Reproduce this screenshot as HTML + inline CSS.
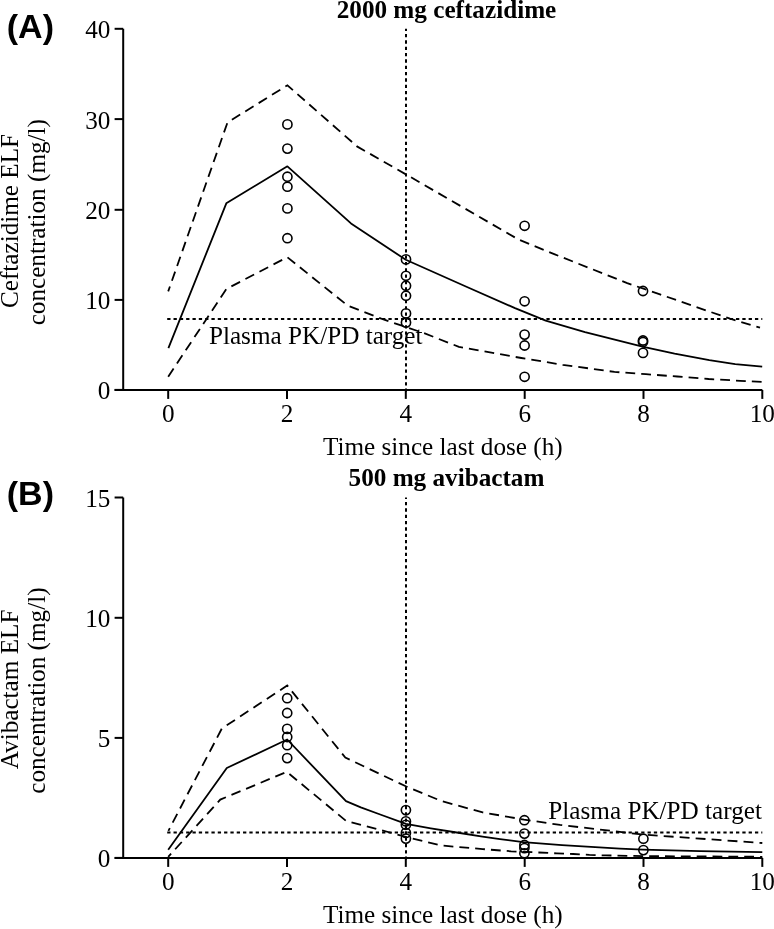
<!DOCTYPE html>
<html><head><meta charset="utf-8"><style>
html,body{margin:0;padding:0;background:#fff;}
svg{display:block;filter:grayscale(1);}
.t{font-family:"Liberation Serif",serif;font-size:25.2px;fill:#000;}
.b{font-weight:bold;}
.lab{font-family:"Liberation Sans",sans-serif;font-size:34px;font-weight:bold;fill:#000;}
.ax{stroke:#000;stroke-width:2;fill:none;}
.sol{stroke:#000;stroke-width:1.8;fill:none;stroke-linejoin:round;}
.dash{stroke:#000;stroke-width:1.8;fill:none;stroke-dasharray:9.8 6.04;}
.dot{stroke:#000;stroke-width:2;fill:none;stroke-dasharray:3.3 3.02;}
.dotv{stroke:#000;stroke-width:2;fill:none;stroke-dasharray:3.3 3.03;}
.c{stroke:#000;stroke-width:1.6;fill:none;}
</style></head><body>
<svg width="774" height="929" viewBox="0 0 774 929">
<path d="M123.2 28.8 V389.9 M114.6 389.9 H762.3" class="ax"/>
<path d="M114.6 389.9 H123.2" class="ax"/>
<text x="110.4" y="399.4" text-anchor="end" class="t">0</text>
<path d="M114.6 299.9 H123.2" class="ax"/>
<text x="110.4" y="309.4" text-anchor="end" class="t">10</text>
<path d="M114.6 209.8 H123.2" class="ax"/>
<text x="110.4" y="219.3" text-anchor="end" class="t">20</text>
<path d="M114.6 119.1 H123.2" class="ax"/>
<text x="110.4" y="128.6" text-anchor="end" class="t">30</text>
<path d="M114.6 28.8 H123.2" class="ax"/>
<text x="110.4" y="38.3" text-anchor="end" class="t">40</text>
<path d="M168.2 389.9 V398.9" class="ax"/>
<text x="168.2" y="421.7" text-anchor="middle" class="t">0</text>
<path d="M287.0 389.9 V398.9" class="ax"/>
<text x="287.0" y="421.7" text-anchor="middle" class="t">2</text>
<path d="M405.8 389.9 V398.9" class="ax"/>
<text x="405.8" y="421.7" text-anchor="middle" class="t">4</text>
<path d="M524.7 389.9 V398.9" class="ax"/>
<text x="524.7" y="421.7" text-anchor="middle" class="t">6</text>
<path d="M643.5 389.9 V398.9" class="ax"/>
<text x="643.5" y="421.7" text-anchor="middle" class="t">8</text>
<path d="M762.3 389.9 V398.9" class="ax"/>
<text x="762.3" y="421.7" text-anchor="middle" class="t">10</text>
<text x="442.8" y="454.6" text-anchor="middle" class="t">Time since last dose (h)</text>
<text x="446.5" y="17.85" text-anchor="middle" class="t b">2000 mg ceftazidime</text>
<text transform="translate(17.8 221.0) rotate(-90)" text-anchor="middle" class="t">Ceftazidime ELF</text>
<text transform="translate(45 222.2) rotate(-90)" text-anchor="middle" class="t">concentration (mg/l)</text>
<path d="M406 391.8 V28.8" class="dotv"/>
<path d="M167.2 319.0 H762.3" class="dot"/>
<path d="M168.4 348.2 L226.3 203.3 L287.4 166.3 L351.0 223.4 L405.8 259.8 L465.3 286.3 L515.0 308.1 L545.7 320.6 L585.0 332.1 L643.5 346.8 L674.6 353.7 L709.3 360.1 L735.2 364.1 L762.2 366.7" class="sol"/>
<path d="M168.2 291.4 L227.5 122.4 L287.4 85.3 L357.0 146.4 L406.0 174.4 L518.6 239.6 L554.2 254.1 L627.2 283.1 L660.0 294.4 L730.0 318.7 L760.0 327.6" class="dash" style="stroke-dashoffset:4.5;stroke-dasharray:9.75 5.98"/>
<path d="M168.2 376.7 L226.4 289.0 L287.3 257.2 L347.5 305.5 L381.3 318.7 L423.6 333.0 L458.9 346.8 L521.3 358.0 L562.7 364.8 L614.5 371.9 L645.9 374.2 L677.3 376.5 L708.7 379.0 L740.1 380.8 L762.3 382.0" class="dash" style="stroke-dashoffset:0;stroke-dasharray:9.8 6.04"/>
<circle cx="287.4" cy="124.4" r="4.6" class="c"/>
<circle cx="287.4" cy="148.6" r="4.6" class="c"/>
<circle cx="287.4" cy="176.7" r="4.6" class="c"/>
<circle cx="287.4" cy="186.7" r="4.6" class="c"/>
<circle cx="287.4" cy="208.4" r="4.6" class="c"/>
<circle cx="287.4" cy="238.2" r="4.6" class="c"/>
<circle cx="406.0" cy="259.4" r="4.6" class="c"/>
<circle cx="406.0" cy="275.8" r="4.6" class="c"/>
<circle cx="406.0" cy="285.7" r="4.6" class="c"/>
<circle cx="406.0" cy="295.7" r="4.6" class="c"/>
<circle cx="406.0" cy="313.4" r="4.6" class="c"/>
<circle cx="406.0" cy="322.6" r="4.6" class="c"/>
<circle cx="524.6" cy="225.8" r="4.6" class="c"/>
<circle cx="524.6" cy="301.3" r="4.6" class="c"/>
<circle cx="524.6" cy="334.6" r="4.6" class="c"/>
<circle cx="524.6" cy="345.5" r="4.6" class="c"/>
<circle cx="524.6" cy="376.8" r="4.6" class="c"/>
<circle cx="643.0" cy="291.0" r="4.6" class="c"/>
<circle cx="643.0" cy="340.5" r="4.6" class="c"/>
<circle cx="643.0" cy="342.0" r="4.6" class="c"/>
<circle cx="643.0" cy="352.9" r="4.6" class="c"/>
<text x="208.9" y="343.5" class="t">Plasma PK/PD target</text><text x="6.8" y="38.3" class="lab">(A)</text>
<path d="M123.2 497.5 V857.9 M114.6 857.9 H762.3" class="ax"/>
<path d="M114.6 857.9 H123.2" class="ax"/>
<text x="110.4" y="867.4" text-anchor="end" class="t">0</text>
<path d="M114.6 737.9 H123.2" class="ax"/>
<text x="110.4" y="747.4" text-anchor="end" class="t">5</text>
<path d="M114.6 617.8 H123.2" class="ax"/>
<text x="110.4" y="627.3" text-anchor="end" class="t">10</text>
<path d="M114.6 497.5 H123.2" class="ax"/>
<text x="110.4" y="507.0" text-anchor="end" class="t">15</text>
<path d="M168.2 857.9 V866.9" class="ax"/>
<text x="168.2" y="889.7" text-anchor="middle" class="t">0</text>
<path d="M287.0 857.9 V866.9" class="ax"/>
<text x="287.0" y="889.7" text-anchor="middle" class="t">2</text>
<path d="M405.8 857.9 V866.9" class="ax"/>
<text x="405.8" y="889.7" text-anchor="middle" class="t">4</text>
<path d="M524.7 857.9 V866.9" class="ax"/>
<text x="524.7" y="889.7" text-anchor="middle" class="t">6</text>
<path d="M643.5 857.9 V866.9" class="ax"/>
<text x="643.5" y="889.7" text-anchor="middle" class="t">8</text>
<path d="M762.3 857.9 V866.9" class="ax"/>
<text x="762.3" y="889.7" text-anchor="middle" class="t">10</text>
<text x="442.8" y="923.1" text-anchor="middle" class="t">Time since last dose (h)</text>
<text x="446.5" y="485.90" text-anchor="middle" class="t b">500 mg avibactam</text>
<text transform="translate(17.8 689.4) rotate(-90)" text-anchor="middle" class="t">Avibactam ELF</text>
<text transform="translate(45 690.6) rotate(-90)" text-anchor="middle" class="t">concentration (mg/l)</text>
<path d="M406 859.8 V497.5" class="dotv"/>
<path d="M167.2 832.6 H762.3" class="dot"/>
<path d="M168.2 849.7 L226.8 768.0 L287.2 739.5 L346.0 801.2 L360.8 807.4 L380.2 814.5 L406.0 823.8 L430.8 828.3 L456.7 832.5 L482.5 836.7 L500.0 839.2 L523.3 842.1 L562.0 845.2 L620.0 848.6 L642.8 849.7 L700.0 851.2 L762.3 852.2" class="sol"/>
<path d="M168.4 830.8 L221.8 728.6 L287.2 685.5 L345.3 757.6 L405.8 786.3 L441.3 801.0 L482.7 812.4 L524.0 819.6 L560.0 824.9 L643.0 834.6 L762.3 843.0" class="dash" style="stroke-dashoffset:6.8;stroke-dasharray:9.9 6.1"/>
<path d="M168.2 856.9 L220.3 799.6 L286.8 771.8 L345.9 820.8 L405.8 836.8 L441.3 845.5 L482.7 849.1 L511.1 851.3 L538.8 852.5 L556.9 853.4 L573.1 854.0 L589.4 854.9 L605.7 855.4 L643.0 856.1 L762.3 856.8" class="dash" style="stroke-dashoffset:5.5;stroke-dasharray:9.8 6.04"/>
<circle cx="287.2" cy="698.2" r="4.6" class="c"/>
<circle cx="287.2" cy="713.0" r="4.6" class="c"/>
<circle cx="287.2" cy="728.9" r="4.6" class="c"/>
<circle cx="287.2" cy="737.0" r="4.6" class="c"/>
<circle cx="287.2" cy="745.2" r="4.6" class="c"/>
<circle cx="287.2" cy="758.1" r="4.6" class="c"/>
<circle cx="405.9" cy="810.1" r="4.6" class="c"/>
<circle cx="405.9" cy="821.4" r="4.6" class="c"/>
<circle cx="405.9" cy="824.8" r="4.6" class="c"/>
<circle cx="405.9" cy="832.9" r="4.6" class="c"/>
<circle cx="405.9" cy="838.6" r="4.6" class="c"/>
<circle cx="524.4" cy="820.2" r="4.6" class="c"/>
<circle cx="524.4" cy="833.6" r="4.6" class="c"/>
<circle cx="524.4" cy="845.0" r="4.6" class="c"/>
<circle cx="524.4" cy="848.1" r="4.6" class="c"/>
<circle cx="524.4" cy="853.3" r="4.6" class="c"/>
<circle cx="643.4" cy="838.7" r="4.6" class="c"/>
<circle cx="643.4" cy="850.1" r="4.6" class="c"/>
<text x="762.0" y="818.7" text-anchor="end" class="t">Plasma PK/PD target</text><text x="6.8" y="504.9" class="lab">(B)</text>
</svg>
</body></html>
